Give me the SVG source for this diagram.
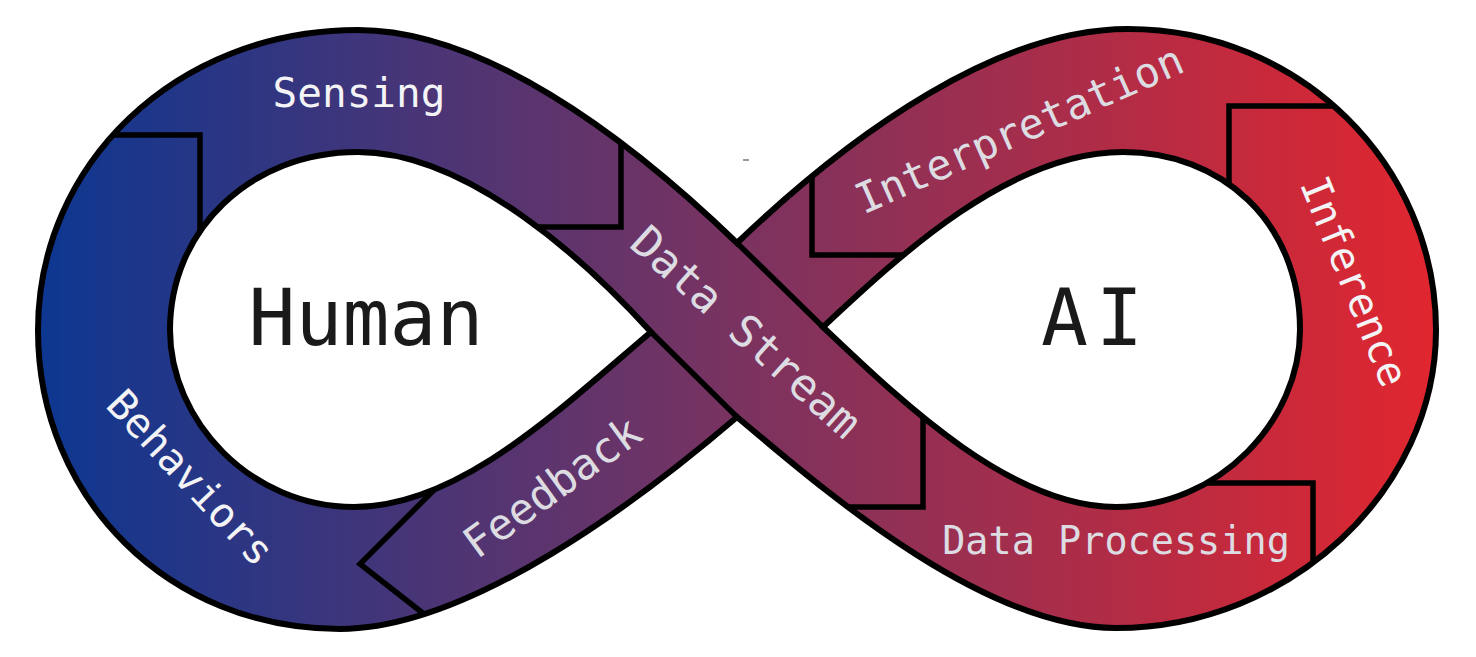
<svg xmlns="http://www.w3.org/2000/svg" width="1476" height="657" viewBox="0 0 1476 657">
  <defs>
    <linearGradient id="band" gradientUnits="userSpaceOnUse" x1="38" y1="0" x2="1436" y2="0">
      <stop offset="0" stop-color="#0d3791"/>
      <stop offset="0.5" stop-color="#7a3360"/>
      <stop offset="1" stop-color="#e1262f"/>
    </linearGradient>
    <path id="shape" d="M 737,243 C 855,130 1000,29 1128,29 C 1300,29 1436,165 1436,330 C 1436,490 1290,628 1116,628 C 980,628 817,484 737,417 C 640,500 470,629 340,629 C 170,629 38,500 38,330 C 38,165 175,30 358,30 C 480,30 620,130 737,243 Z M 358,152 C 470,152 590,265 651,332 C 561,408 460,507 354,507 C 250,507 170,420 170,330 C 170,230 250,152 358,152 Z M 823,327 C 900,255 1010,152 1123,152 C 1220,152 1300,220 1300,330 C 1300,420 1220,507 1116,507 C 1010,507 900,400 823,327 Z"/>
    <clipPath id="bandclip">
      <use href="#shape" clip-rule="evenodd"/>
    </clipPath>
    <style>
      .line { fill: none; stroke: #000; stroke-width: 5.5; stroke-linejoin: miter; }
      .lbl { font-family: "DejaVu Sans Mono", "Liberation Mono", monospace; text-anchor: middle; }
      .w { fill: #f4f4f6; }
      .g { fill: #dcdce2; }
      .big { font-family: "DejaVu Sans Mono", "Liberation Mono", monospace; font-size: 78px; fill: #1a1a1a; text-anchor: middle; }
    </style>
  </defs>

  <g id="band-loop">
    <use href="#shape" fill="url(#band)" fill-rule="evenodd"/>
  </g>

  <g id="connectors" clip-path="url(#bandclip)">
    <polyline class="line" points="95,135 200,135 200,245"/>
    <polyline class="line" points="621,128 621,227 525,227"/>
    <polyline class="line" points="923,412 923,507 830,507"/>
    <polyline class="line" points="1200,483 1313,483 1313,580"/>
    <polyline class="line" points="1355,106 1229,106 1229,195"/>
    <polyline class="line" points="812,165 812,255 910,255"/>
    <polyline class="line" points="440,484 360,564 438,625"/>
  </g>

  <g id="outline">
    <use href="#shape" fill="none" stroke="#000" stroke-width="6"/>
    <line class="line" x1="737" y1="243" x2="823" y2="327"/>
    <line class="line" x1="651" y1="332" x2="737" y2="417"/>
  </g>

  <g id="node-human"><text class="big" x="366" y="345">Human</text></g>
  <g id="node-ai"><text class="big" x="1096" y="345" letter-spacing="8">AI</text></g>

  <g id="node-sensing"><text class="lbl w" x="359" y="107" font-size="41">Sensing</text></g>
  <g id="node-datastream"><text class="lbl g" transform="translate(746,332) rotate(42)" x="0" y="15" font-size="44">Data Stream</text></g>
  <g id="node-dataprocessing"><text class="lbl g" x="1116" y="554" font-size="38.5">Data Processing</text></g>
  <g id="node-inference"><text class="lbl w" transform="translate(1355,281) rotate(68)" x="0" y="15" font-size="41">Inference</text></g>
  <g id="node-interpretation"><text class="lbl g" transform="translate(1019,129) rotate(-24)" x="0" y="15" font-size="42">Interpretation</text></g>
  <g id="node-feedback"><text class="lbl g" transform="translate(552,487) rotate(-36)" x="0" y="15" font-size="43">Feedback</text></g>
  <g id="node-behaviors"><text class="lbl w" transform="translate(191,477) rotate(47)" x="0" y="15" font-size="41">Behaviors</text></g>

  <rect x="743" y="159" width="6" height="2" fill="#9a9a9a"/>
</svg>
